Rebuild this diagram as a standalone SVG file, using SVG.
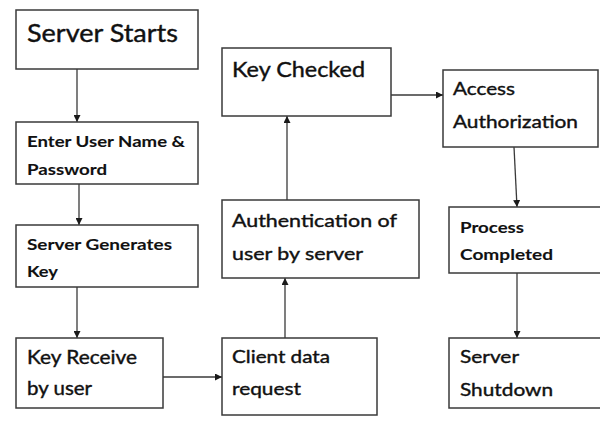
<svg xmlns="http://www.w3.org/2000/svg" width="600" height="427" viewBox="0 0 600 427">
  <style>
    .box { fill: #ffffff; stroke: #3a3a3a; stroke-width: 1.5; }
    .t { font-family: Lato, "Open Sans", "Liberation Sans", sans-serif; fill: #111111; stroke: #111111; stroke-width: 0.4; }
    .b { font-weight: bold; stroke-width: 0.1; }
    .edge { fill: none; stroke: #3a3a3a; stroke-width: 1.3; marker-end: url(#arrow); }
  </style>
  <defs>
    <marker id="arrow" viewBox="0 0 10 10" refX="10" refY="5" markerWidth="7" markerHeight="7" markerUnits="userSpaceOnUse" orient="auto">
      <path d="M0,0 L10,5 L0,10 Z" fill="#1a1a1a"/>
    </marker>
  </defs>
  <rect width="600" height="427" fill="#ffffff"/>

  <g id="connectors">
    <line class="edge" x1="77" y1="69" x2="77" y2="122"/>
    <line class="edge" x1="79" y1="184" x2="79" y2="225"/>
    <line class="edge" x1="77" y1="287" x2="77" y2="338"/>
    <line class="edge" x1="163" y1="377" x2="222" y2="377"/>
    <line class="edge" x1="285" y1="338" x2="285" y2="278"/>
    <line class="edge" x1="287" y1="200" x2="287" y2="116"/>
    <line class="edge" x1="391" y1="95" x2="443" y2="95"/>
    <line class="edge" x1="514" y1="147" x2="517" y2="207"/>
    <line class="edge" x1="517" y1="273" x2="517" y2="338"/>
  </g>

  <g id="server-starts">
    <rect class="box" x="16" y="10" width="182" height="59"/>
    <text class="t" x="27" y="42" font-size="25" stroke-width="0.7" textLength="151" lengthAdjust="spacingAndGlyphs">Server Starts</text>
  </g>

  <g id="enter-credentials">
    <rect class="box" x="16" y="122" width="182" height="62"/>
    <text class="t b" x="27" y="147" font-size="16" textLength="158" lengthAdjust="spacingAndGlyphs">Enter User Name &amp;</text>
    <text class="t b" x="27" y="175" font-size="16" textLength="80" lengthAdjust="spacingAndGlyphs">Password</text>
  </g>

  <g id="server-generates-key">
    <rect class="box" x="16" y="225" width="182" height="62"/>
    <text class="t b" x="27" y="250" font-size="16" textLength="145" lengthAdjust="spacingAndGlyphs">Server Generates</text>
    <text class="t b" x="27" y="277" font-size="16" textLength="31" lengthAdjust="spacingAndGlyphs">Key</text>
  </g>

  <g id="key-receive">
    <rect class="box" x="16" y="338" width="147" height="70"/>
    <text class="t" x="27" y="364" font-size="19" textLength="110" lengthAdjust="spacingAndGlyphs">Key Receive</text>
    <text class="t" x="27" y="395" font-size="19" textLength="65" lengthAdjust="spacingAndGlyphs">by user</text>
  </g>

  <g id="client-data-request">
    <rect class="box" x="222" y="338" width="155" height="77"/>
    <text class="t" x="232" y="363" font-size="18" textLength="98" lengthAdjust="spacingAndGlyphs">Client data</text>
    <text class="t" x="232" y="395" font-size="18" textLength="69" lengthAdjust="spacingAndGlyphs">request</text>
  </g>

  <g id="authentication">
    <rect class="box" x="222" y="200" width="197" height="78"/>
    <text class="t" x="232" y="227" font-size="18" textLength="165" lengthAdjust="spacingAndGlyphs">Authentication  of</text>
    <text class="t" x="232" y="260" font-size="18" textLength="131" lengthAdjust="spacingAndGlyphs">user by server</text>
  </g>

  <g id="key-checked">
    <rect class="box" x="222" y="48" width="169" height="68"/>
    <text class="t" x="232" y="77" font-size="22" textLength="133" lengthAdjust="spacingAndGlyphs">Key Checked</text>
  </g>

  <g id="access-authorization">
    <rect class="box" x="443" y="70" width="155" height="77"/>
    <text class="t" x="453" y="95" font-size="18" textLength="62" lengthAdjust="spacingAndGlyphs">Access</text>
    <text class="t" x="453" y="128" font-size="18" textLength="125" lengthAdjust="spacingAndGlyphs">Authorization</text>
  </g>

  <g id="process-completed">
    <rect class="box" x="449" y="207" width="160" height="66"/>
    <text class="t b" x="460" y="233" font-size="16" textLength="64" lengthAdjust="spacingAndGlyphs">Process</text>
    <text class="t b" x="460" y="260" font-size="16" textLength="93" lengthAdjust="spacingAndGlyphs">Completed</text>
  </g>

  <g id="server-shutdown">
    <rect class="box" x="449" y="338" width="160" height="70"/>
    <text class="t" x="460" y="363" font-size="18" textLength="59" lengthAdjust="spacingAndGlyphs">Server</text>
    <text class="t" x="460" y="396" font-size="18" textLength="93" lengthAdjust="spacingAndGlyphs">Shutdown</text>
  </g>
</svg>
